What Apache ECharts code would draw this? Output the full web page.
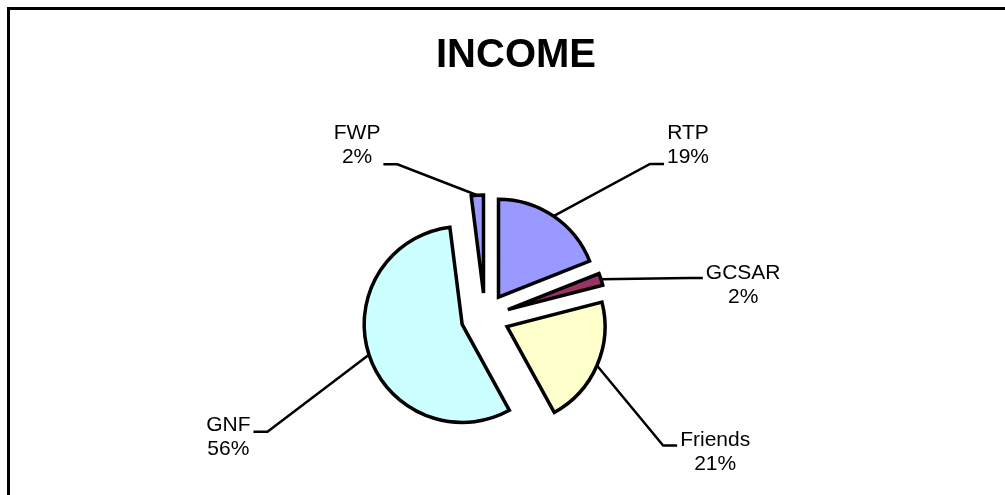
<!DOCTYPE html>
<html>
<head>
<meta charset="utf-8">
<script src="https://cdn.jsdelivr.net/npm/echarts@6/dist/echarts.min.js"></script>
<style>
  html, body { margin: 0; padding: 0; background: #fff; }
  #chart { width: 1005px; height: 495px; }
</style>
</head>
<body>
<div id="chart"></div>
<script>
// ---- data ----
const categories = ['RTP', 'GCSAR', 'Friends', 'GNF', 'FWP'];
const values = [19, 2, 21, 56, 2];
const colors = ['#9999FF', '#993366', '#FFFFCC', '#CCFFFF', '#9999FF'];
const chartTitle = 'INCOME';

// ---- label layout (styling only) ----
const labelLen = { RTP: [63, 75], GCSAR: [4, 98], Friends: [10, 71], GNF: [10, 106], FWP: [31, 92] };
const lineShiftY = { Friends: 76, GNF: 74 };          // move leader end + text together
const textOffsetY = { RTP: -19, FWP: -19, GCSAR: 7, Friends: 7, GNF: 5 }; // text relative to leader

const FONT = "'Liberation Sans', Arial, sans-serif";

const pieData = categories.map((name, i) => ({
  name: name,
  value: values[i],
  selected: true,
  itemStyle: { color: colors[i] },
  labelLine: { length: labelLen[name][0], length2: labelLen[name][1] }
}));

const chart = echarts.init(document.getElementById('chart'), null, { renderer: 'canvas' });
chart.setOption({
  animation: false,
  backgroundColor: '#ffffff',
  title: {
    text: chartTitle,
    left: 431,
    top: 31,
    textStyle: { fontFamily: FONT, fontWeight: 'bold', fontSize: 40, color: '#000' }
  },
  graphic: [{
    type: 'rect',
    shape: { x: 8.5, y: 8.5, width: 1100, height: 600 },
    style: { fill: 'none', stroke: '#000', lineWidth: 3 },
    silent: true
  }],
  series: [{
    type: 'pie',
    center: [485, 317],
    radius: 98,
    startAngle: 90,
    clockwise: true,
    selectedMode: 'multiple',
    selectedOffset: 24,
    avoidLabelOverlap: false,
    percentPrecision: 0,
    itemStyle: { borderColor: '#000', borderWidth: 3.5, borderJoin: 'miter' },
    emphasis: { disabled: true },
    select: { itemStyle: { borderColor: '#000', borderWidth: 3.5, borderJoin: 'miter' } },
    label: {
      show: true,
      position: 'outside',
      formatter: '{b}\n{d}%',
      fontFamily: FONT,
      fontSize: 21,
      lineHeight: 24,
      color: '#000',
      distanceToLabelLine: 3
    },
    labelLine: {
      show: true,
      smooth: false,
      lineStyle: { color: '#000', width: 2.5 }
    },
    labelLayout: function (params) {
      const pts = params.labelLinePoints;
      if (!pts) return {};
      const name = categories[params.dataIndex];
      const p1 = pts[0], p3 = pts[2];
      const s = p3[0] > p1[0] ? 1 : -1;
      const ly = lineShiftY[name] || 0;
      const ty = textOffsetY[name] || 0;
      const end = [p3[0], p3[1] + ly];
      const elbow = [p3[0] - s * 14, p3[1] + ly];
      return {
        align: 'center',
        dx: s * params.labelRect.width / 2,
        dy: ly + ty,
        labelLinePoints: [p1, elbow, end]
      };
    },
    data: pieData
  }]
});
</script>
</body>
</html>
